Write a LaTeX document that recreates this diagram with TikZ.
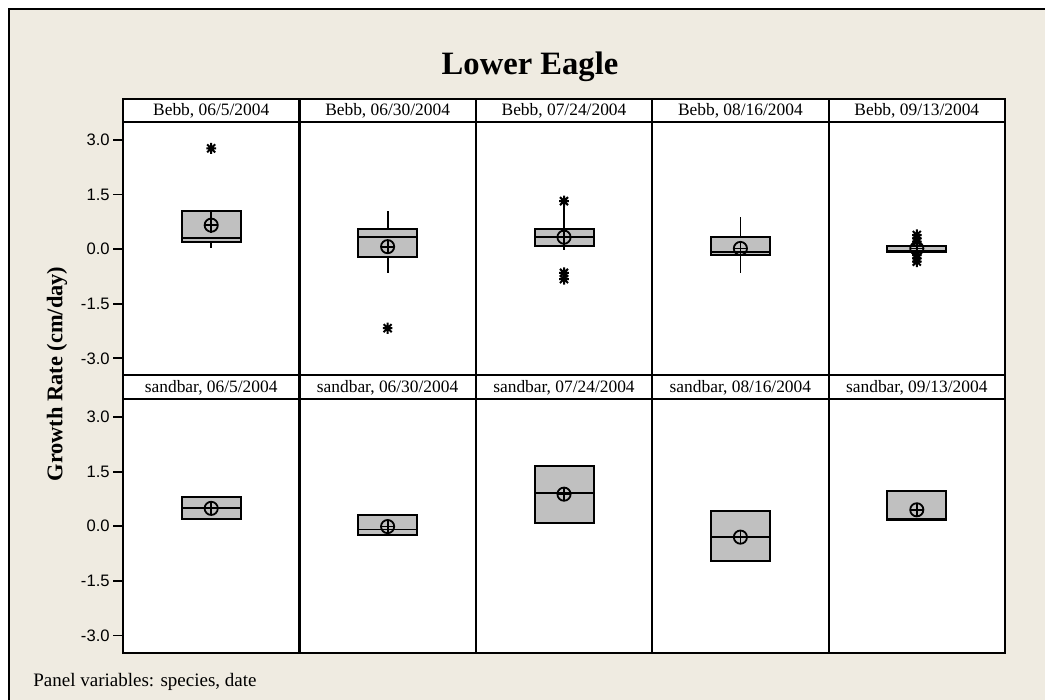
\documentclass[tikz,border=0pt]{standalone}
\usepackage{fontspec}
\setmainfont{Liberation Serif}
\setsansfont{Liberation Sans}
\definecolor{paper}{HTML}{EFEBE1}
\definecolor{boxgray}{HTML}{C0C0C0}
\tikzset{
  frame/.style={line width=1.1pt},
  boxst/.style={draw=black, fill=boxgray, line width=1pt},
  whisk/.style={line width=0.9pt},
  meanst/.style={line width=0.9pt},
  outst/.style={line width=1pt},
  panel/.style 2 args={shift={(#1,#2)}, y={(0pt,18.2pt)}},
  hdr/.style={font=\fontsize{8.7}{10}\selectfont, anchor=base, inner sep=0pt},
  ticklbl/.style={font=\sffamily\fontsize{8.3}{9}\selectfont, anchor=east, inner sep=0pt},
}
% q1, median, q3, whisker low, whisker high, mean
\newcommand{\bplot}[6]{
  \draw[whisk] (0,#3) -- (0,#5);
  \draw[whisk] (0,#1) -- (0,#4);
  \draw[boxst] (-29.5,#1) rectangle (29.5,#3);
  \draw[whisk] (-29.5,#2) -- (29.5,#2);
  \draw[meanst] (0,#6) circle[radius=3.3pt];
  \draw[meanst] (0,#6) +(-3.3pt,0pt) -- +(3.3pt,0pt) +(0pt,-3.3pt) -- +(0pt,3.3pt);
}
\newcommand{\outl}[1]{
  \draw[outst] (0,#1) +(0pt,-2.8pt) -- +(0pt,2.8pt) +(-2pt,-2pt) -- +(2pt,2pt) +(-2pt,2pt) -- +(2pt,-2pt) +(-2.4pt,0pt) -- +(2.4pt,0pt);
}
\begin{document}
\begin{tikzpicture}[x=0.5pt, y=-0.5pt]
\useasboundingbox (0,0) rectangle (1045,700);
\fill[white] (0,0) rectangle (1045,700);
\fill[paper] (9,9) rectangle (1045,700);
\draw[line width=1pt] (9,700) -- (9,9) -- (1045,9);

\node[font=\bfseries\fontsize{16.3}{19}\selectfont, anchor=base] (title) at (530,74.3) {Lower Eagle};
\node[font=\bfseries\fontsize{11.2}{13}\selectfont, rotate=90] (ylabel) at (57,374) {Growth Rate (cm/day)};
\node[font=\fontsize{9.5}{12}\selectfont, anchor=base west, inner sep=0pt] (footer) at (33,686) {Panel variables: species, date};

\fill[white] (123,99) rectangle (1005,653);

% ticks
\foreach \z [count=\r] in {249.2,526.2}
  \foreach \v [count=\i] in {3.0,1.5,0.0,-1.5,-3.0} {
    \draw[line width=0.9pt] (113,\z-36.4*\v) -- (123,\z-36.4*\v);
    \node[ticklbl] (t\r-\i) at (110,\z-36.4*\v) {\v};
  }

% Bebb
\begin{scope}[panel={211.2}{249.2}]
  \bplot{0.19}{0.30}{1.06}{0.02}{1.06}{0.66}
  \draw[whisk] (0,1.06) -- (0,0.44);
  \outl{2.77}
\end{scope}
\begin{scope}[panel={387.6}{249.2}]
  \bplot{-0.21}{0.34}{0.55}{-0.66}{1.06}{0.07}
  \outl{-2.17}
\end{scope}
\begin{scope}[panel={564}{249.2}]
  \bplot{0.09}{0.34}{0.55}{-0.02}{1.21}{0.33}
  \draw[whisk] (0,1.21) -- (0,-0.02);
  \outl{1.32} \outl{-0.65} \outl{-0.82}
\end{scope}
\begin{scope}[panel={740.4}{249.2}]
  \bplot{-0.16}{-0.07}{0.34}{-0.66}{0.89}{0.02}
\end{scope}
\begin{scope}[panel={916.8}{249.2}]
  \bplot{-0.07}{-0.04}{0.10}{-0.07}{0.10}{0.02}
  \foreach \o in {0.39,0.30,0.21,-0.16,-0.25,-0.34} {\outl{\o}}
\end{scope}

% sandbar
\begin{scope}[panel={211.2}{526.2}]
  \bplot{0.20}{0.51}{0.81}{0.20}{0.81}{0.49}
\end{scope}
\begin{scope}[panel={387.6}{526.2}]
  \bplot{-0.25}{-0.09}{0.32}{-0.25}{0.32}{-0.01}
\end{scope}
\begin{scope}[panel={564}{526.2}]
  \bplot{0.10}{0.91}{1.66}{0.10}{1.66}{0.88}
\end{scope}
\begin{scope}[panel={740.4}{526.2}]
  \bplot{-0.95}{-0.29}{0.43}{-0.95}{0.43}{-0.30}
\end{scope}
\begin{scope}[panel={916.8}{526.2}]
  \bplot{0.17}{0.20}{0.98}{0.17}{0.98}{0.45}
\end{scope}

% frame and strips
\draw[frame] (123,99) rectangle (1005,653);
\draw[frame] (123,122) -- (1005,122);
\draw[frame] (123,375) -- (1005,375);
\draw[frame] (123,399) -- (1005,399);
\foreach \xd in {299.4,475.8,652.2,828.6}
  \draw[frame] (\xd,99) -- (\xd,653);

\foreach \d [count=\i] in {06/5/2004,06/30/2004,07/24/2004,08/16/2004,09/13/2004} {
  \node[hdr] (hb\i) at (123+176.4*\i-88.2,116) {Bebb, \d};
  \node[hdr] (hs\i) at (123+176.4*\i-88.2,393) {sandbar, \d};
}
\end{tikzpicture}
\end{document}
